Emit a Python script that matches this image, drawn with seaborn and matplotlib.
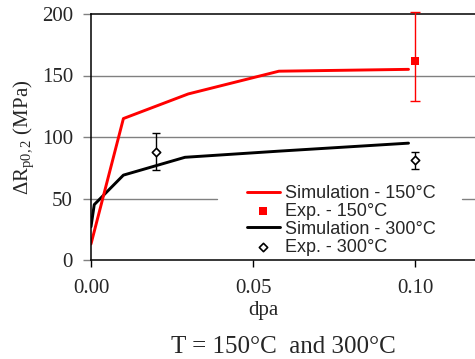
import matplotlib
matplotlib.use("Agg")
import matplotlib.pyplot as plt
import numpy as np
import pandas as pd
import seaborn as sns

# simulation curves (dpa, delta Rp0.2 in MPa)
sim150_dpa = [0.0, 0.01, 0.03, 0.058, 0.098]
sim150_val = [13, 115, 135, 153.5, 155]
sim300_dpa = [0.0, 0.001, 0.01, 0.029, 0.058, 0.098]
sim300_val = [27, 45, 69, 83.5, 88.5, 95]

# experiments
exp150_dpa = [0.1]
exp150_val = [162]
exp150_err_lo = [33]
exp150_err_hi = [40]
exp300_dpa = [0.02, 0.1]
exp300_val = [88, 81]
exp300_err = [15, 7]

y_ticks = [0, 50, 100, 150, 200]
x_ticks = [0.0, 0.05, 0.10]
x_ticklabels = ["0.00", "0.05", "0.10"]

sns.set_style("white")
plt.rcParams["font.family"] = ["Liberation Serif", "DejaVu Serif"]
plt.rcParams["mathtext.fontset"] = "custom"
plt.rcParams["mathtext.rm"] = "Liberation Serif"
plt.rcParams["mathtext.it"] = "Liberation Serif:italic"

fig = plt.figure(figsize=(4.75, 3.59), dpi=100)
ax = fig.add_axes([91 / 475, 1 - 260 / 359, 1 - 91 / 475, 246 / 359])

s150 = pd.DataFrame({"dpa": sim150_dpa, "val": sim150_val})
s300 = pd.DataFrame({"dpa": sim300_dpa, "val": sim300_val})
e150 = pd.DataFrame({"dpa": exp150_dpa, "val": exp150_val})
e300 = pd.DataFrame({"dpa": exp300_dpa, "val": exp300_val})

# grid lines (gap at 50 where legend sits)
grey = "#808080"
for yv in [100, 150]:
    ax.axhline(yv, color=grey, lw=1.0, zorder=0.5)
ax.axhline(50, xmax=0.328, color=grey, lw=1.0, zorder=0.5)
ax.axhline(50, xmin=0.966, color=grey, lw=1.0, zorder=0.5)

sns.lineplot(data=s300, x="dpa", y="val", ax=ax, color="black", lw=2.1,
             sort=False, estimator=None, label="Simulation - 300°C", legend=False)
sns.lineplot(data=s150, x="dpa", y="val", ax=ax, color="#ff0000", lw=2.1,
             sort=False, estimator=None, label="Simulation - 150°C", legend=False)

ax.errorbar(exp150_dpa, exp150_val, yerr=[exp150_err_lo, exp150_err_hi],
            fmt="none", ecolor="#ff0000", elinewidth=1.0, capsize=3.3,
            capthick=1.0, clip_on=False, zorder=3)
ax.errorbar(exp300_dpa, exp300_val, yerr=exp300_err, fmt="none",
            ecolor="black", elinewidth=1.0, capsize=3.0, capthick=1.0, zorder=3)
sns.scatterplot(data=e150, x="dpa", y="val", ax=ax, marker="s", s=30,
                color="#ff0000", edgecolor="#ff0000", linewidth=0, zorder=4,
                label="Exp. - 150°C", legend=False)
sns.scatterplot(data=e300, x="dpa", y="val", ax=ax, marker="D", s=18,
                facecolor="white", edgecolor="black", linewidth=1.2, zorder=4,
                label="Exp. - 300°C", legend=False)

ax.set_xlim(0, (475 - 91) / 3240)
ax.set_ylim(0, 200)
ax.set_yticks(y_ticks)
ax.set_xticks(x_ticks)
ax.set_xticklabels(x_ticklabels)

for side in ["left", "bottom", "top"]:
    ax.spines[side].set_color("black")
    ax.spines[side].set_linewidth(1.1)
ax.spines["right"].set_visible(False)

ax.tick_params(axis="y", direction="out", length=6, width=1.0, color=grey,
               pad=7, labelsize=15, left=True)
ax.tick_params(axis="x", direction="out", length=5, width=1.0, color="black",
               pad=9, labelsize=15, bottom=True)

ax.set_ylabel("ΔR$_{\\mathrm{p0,2}}$ (MPa)", fontsize=15)
ax.set_xlabel("dpa", fontsize=15)
ax.xaxis.set_label_coords((263 - 91) / 384, -0.168)

handles, labels = ax.get_legend_handles_labels()
order = ["Simulation - 150°C", "Exp. - 150°C", "Simulation - 300°C", "Exp. - 300°C"]
hmap = dict(zip(labels, handles))
leg = ax.legend([hmap[k] for k in order], order, loc="upper left",
                bbox_to_anchor=((247 - 91) / 384, 0.305), frameon=False,
                borderpad=0, borderaxespad=0, handlelength=1.8,
                handletextpad=0.3, labelspacing=0.05,
                prop={"family": "Liberation Sans", "size": 13})

fig.text(283 / 475, 1 - 347 / 359, "T = 150°C  and 300°C", ha="center",
         va="center", fontsize=18)

fig.savefig("out.png", dpi=100)
